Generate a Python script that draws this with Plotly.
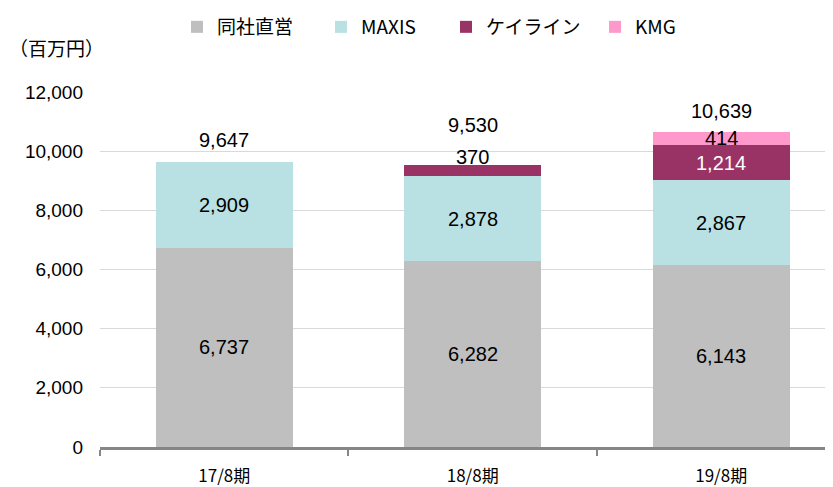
import plotly.graph_objects as go

categories = ["17/8期", "18/8期", "19/8期"]
series_names = ["同社直営", "MAXIS", "ケイライン", "KMG"]
direct = [6737, 6282, 6143]
maxis = [2909, 2878, 2867]
keiline = [None, 370, 1214]
kmg = [None, None, 414]
totals = [9647, 9530, 10639]
y_ticks = [0, 2000, 4000, 6000, 8000, 10000, 12000]

colors = ["#BFBFBF", "#B9E0E3", "#993366", "#FF99CC"]
series = [direct, maxis, keiline, kmg]

NUM_FONT = "Liberation Sans, Arial, Noto Sans CJK JP"
JP_FONT = "Noto Sans CJK JP, Liberation Sans"

# page body has an 8px margin; figure sized to fill the rest of the window
OFF = 8
W, H = 833 - OFF, 487 - OFF

fig = go.Figure()
legend_ids = ["legend", "legend2", "legend3", "legend4"]
for name, vals, col, lg in zip(series_names, series, colors, legend_ids):
    fig.add_trace(go.Bar(
        name=name, x=categories, y=[v if v is not None else 0 for v in vals],
        marker=dict(color=col, line=dict(width=0)), legend=lg,
        hoverinfo="x+y+name",
    ))

annotations = []
seg_shift = {(2, 1): 14}
white_labels = {(2, 2)}
for ci, cat in enumerate(categories):
    base = 0
    for si, vals in enumerate(series):
        v = vals[ci]
        if v is None:
            continue
        annotations.append(dict(
            x=cat, y=base + v / 2, xref="x", yref="y", text=f"{v:,}",
            showarrow=False,
            font=dict(family=NUM_FONT, size=20,
                      color="white" if (si, ci) in white_labels else "black"),
            yshift=seg_shift.get((si, ci), 0),
        ))
        base += v
total_shift = [22, 40, 21]
for ci, cat in enumerate(categories):
    annotations.append(dict(
        x=cat, y=totals[ci], xref="x", yref="y", text=f"{totals[ci]:,}",
        showarrow=False, font=dict(family=NUM_FONT, size=20, color="black"),
        yshift=total_shift[ci],
    ))
annotations.append(dict(
    x=0, y=1, xref="paper", yref="paper", xanchor="left", yanchor="middle",
    xshift=-93, yshift=45, text="（百万円）", showarrow=False,
    font=dict(family=JP_FONT, size=19, color="black"),
))

legend_common = dict(orientation="h", xref="container", yref="container",
                     xanchor="left", yanchor="top", y=1,
                     bgcolor="rgba(0,0,0,0)", borderwidth=0,
                     font=dict(family=JP_FONT, size=19, color="black"))
legend_sym = [196, 340, 465, 614]

layout_legends = {}
for lg, lx in zip(legend_ids, legend_sym):
    d = dict(legend_common)
    d["x"] = (lx - 19 - OFF) / W
    layout_legends[lg] = d

fig.update_layout(
    width=W, height=H,
    barmode="stack", bargap=0.45,
    paper_bgcolor="white", plot_bgcolor="white",
    margin=dict(l=100 - OFF, r=0, t=92 - OFF, b=40, autoexpand=False),
    showlegend=True,
    annotations=annotations,
    xaxis=dict(
        range=[-0.5, 2.45], showline=True, linecolor="#868686", linewidth=3,
        ticks="outside", tickson="boundaries", ticklen=6, tickwidth=2, tickcolor="#868686",
        tickfont=dict(family=JP_FONT, size=17, color="black"),
        ticklabelstandoff=12, showgrid=False, fixedrange=True, automargin=False,
    ),
    yaxis=dict(
        range=[0, 12000], tickvals=y_ticks, ticktext=[f"{t:,}" for t in y_ticks],
        showgrid=True, gridcolor="#D9D9D9", gridwidth=1, showline=False, zeroline=False,
        tickfont=dict(family=NUM_FONT, size=19, color="black"),
        ticklabelstandoff=16, fixedrange=True, automargin=False,
    ),
    **layout_legends,
)

fig.write_html("out.html")
